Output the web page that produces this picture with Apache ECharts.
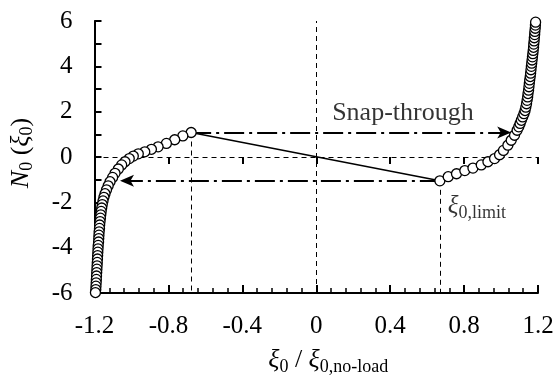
<!DOCTYPE html>
<html><head><meta charset="utf-8">
<script src="https://cdn.jsdelivr.net/npm/echarts@6/dist/echarts.min.js"></script>
<style>html,body{margin:0;padding:0;background:#fff}#c{width:558px;height:385px}</style>
</head><body><div id="c"></div>
<script>
// Stable branch, negative side (from limit point down to the bottom)
const leftBranch = [[-0.677,1.08],[-0.722,0.93],[-0.766,0.76],[-0.811,0.60],[-0.856,0.45],[-0.892,0.34],[-0.928,0.23],[-0.963,0.14],[-0.990,0.04],[-1.012,-0.07],[-1.035,-0.21],[-1.053,-0.35],[-1.071,-0.53],[-1.089,-0.72],[-1.102,-0.90],[-1.116,-1.09],[-1.126,-1.27],[-1.135,-1.45],[-1.143,-1.62],[-1.149,-1.78],[-1.154,-1.94],[-1.158,-2.10],[-1.161,-2.25],[-1.164,-2.40],[-1.166,-2.55],[-1.168,-2.70],[-1.170,-2.85],[-1.172,-3.00],[-1.173,-3.15],[-1.175,-3.30],[-1.176,-3.45],[-1.177,-3.60],[-1.178,-3.75],[-1.180,-3.90],[-1.181,-4.05],[-1.182,-4.20],[-1.183,-4.35],[-1.184,-4.50],[-1.185,-4.65],[-1.186,-4.80],[-1.187,-4.95],[-1.188,-5.10],[-1.189,-5.25],[-1.190,-5.40],[-1.191,-5.55],[-1.192,-5.70],[-1.193,-5.85],[-1.195,-5.98]];
// Stable branch, positive side (from limit point up to the top)
const rightBranch = [[0.669,-1.05],[0.714,-0.87],[0.759,-0.74],[0.804,-0.60],[0.848,-0.49],[0.893,-0.35],[0.929,-0.21],[0.965,-0.07],[0.992,0.10],[1.013,0.29],[1.037,0.52],[1.055,0.74],[1.073,0.96],[1.087,1.18],[1.096,1.33],[1.103,1.48],[1.110,1.62],[1.117,1.77],[1.124,1.91],[1.130,2.05],[1.134,2.20],[1.138,2.35],[1.141,2.50],[1.144,2.65],[1.146,2.80],[1.149,2.95],[1.151,3.10],[1.153,3.25],[1.155,3.40],[1.158,3.55],[1.160,3.70],[1.162,3.85],[1.164,4.00],[1.166,4.14],[1.168,4.28],[1.170,4.42],[1.172,4.56],[1.174,4.70],[1.176,4.84],[1.177,4.98],[1.179,5.12],[1.180,5.26],[1.182,5.40],[1.183,5.54],[1.185,5.68],[1.186,5.82],[1.187,5.95]];
const upperLimit = [-0.677, 1.08];
const lowerLimit = [0.669, -1.05];
const snapUpperEnd = [1.055, 1.08];
const snapLowerEnd = [-1.062, -1.05];
const xMin = -1.2, xMax = 1.2, xStep = 0.4;
const yMin = -6, yMax = 6, yStep = 2;
const snapLabel = 'Snap-through';
const snapLabelAt = [0.086, 1.94];
const limitLabelAt = [0.712, -2.2];

const F = 'Liberation Serif';
const chart = echarts.init(document.getElementById('c'), null, {renderer:'canvas'});
const dashThin = {color:'#000', width:1, type:[5,4]};
const dashDot = {color:'#000', width:2, type:[20,5,3,5]};
const base = {
  fontFamily:F, color:'#000', fontSize:26,
  rich:{
    i:{fontFamily:F, fontStyle:'italic', fontSize:26, color:'#000'},
    g:{fontFamily:F, fontStyle:'italic', fontSize:26, color:'#000'},
    n:{fontFamily:F, fontSize:26, color:'#000'},
    s:{fontFamily:F, fontSize:18, color:'#000', padding:[13,0,0,0]}
  }
};
chart.setOption({
  animation:false,
  backgroundColor:'#fff',
  grid:{left:92, right:20, top:21, bottom:92, containLabel:false},
  xAxis:[{
    type:'value', min:xMin, max:xMax, interval:xStep,
    axisLine:{show:true, onZero:false, lineStyle:{color:'#000', width:2}},
    axisTick:{show:true, inside:true, length:8, lineStyle:{color:'#000', width:2}},
    minorTick:{show:true, splitNumber:5, length:5, lineStyle:{color:'#000', width:1.5}},
    splitLine:{show:false},
    axisLabel:{fontFamily:F, fontSize:25, color:'#000', margin:21},
    name:'{g|ξ}{s|0}{n| / }{g|ξ}{s|0,no-load}',
    nameLocation:'middle', nameGap:52,
    nameTextStyle:Object.assign({}, base, {padding:[0,0,0,24]})
  },{
    type:'value', min:xMin, max:xMax, interval:xStep, position:'bottom',
    axisLine:{show:false}, axisLabel:{show:false}, splitLine:{show:false},
    axisTick:{show:true, inside:false, length:7, lineStyle:{color:'#000', width:2}}
  }],
  yAxis:{
    type:'value', min:yMin, max:yMax, interval:yStep,
    axisLine:{show:true, onZero:false, lineStyle:{color:'#000', width:2}},
    axisTick:{show:true, inside:true, length:7, lineStyle:{color:'#000', width:2}},
    minorTick:{show:true, splitNumber:2, length:7, lineStyle:{color:'#000', width:2}},
    splitLine:{show:false},
    axisLabel:{fontFamily:F, fontSize:25, color:'#000', margin:22},
    name:'{i|N}{s|0}{n| (}{g|ξ}{s|0}{n|)}',
    nameLocation:'middle', nameGap:58, nameRotate:90,
    nameTextStyle:Object.assign({}, base, {padding:[0,0,0,8]})
  },
  series:[
    {
      type:'scatter', z:1, symbolSize:0, data:[], silent:true,
      markLine:{
        silent:true, symbol:['none','none'], label:{show:false}, animation:false,
        data:[
          [{coord:[0,yMin], lineStyle:dashThin},{coord:[0,yMax]}],
          [{coord:[xMin,0], lineStyle:dashThin},{coord:[xMax,0]}],
          [{coord:[upperLimit[0],upperLimit[1]], lineStyle:dashThin},{coord:[upperLimit[0],yMin]}],
          [{coord:[lowerLimit[0],lowerLimit[1]], lineStyle:dashThin},{coord:[lowerLimit[0],yMin]}],
          [{coord:upperLimit, lineStyle:{color:'#000', width:1.5, type:'solid'}},{coord:lowerLimit}]
        ]
      }
    },
    {
      type:'scatter', z:2, symbolSize:0, data:[], silent:true,
      markLine:{
        silent:true, symbol:['none','arrow'], symbolSize:[9,14], label:{show:false}, animation:false,
        lineStyle:dashDot,
        data:[
          [{coord:upperLimit},{coord:snapUpperEnd}],
          [{coord:lowerLimit},{coord:snapLowerEnd}]
        ]
      }
    },
    {
      type:'scatter', z:5, clip:false, symbol:'circle', symbolSize:10,
      itemStyle:{color:'#fff', borderColor:'#000', borderWidth:1.3, opacity:1},
      data:leftBranch
    },
    {
      type:'scatter', z:5, clip:false, symbol:'circle', symbolSize:10,
      itemStyle:{color:'#fff', borderColor:'#000', borderWidth:1.3, opacity:1},
      data:rightBranch
    },
    {
      type:'scatter', z:6, symbolSize:0, silent:true,
      data:[{value:snapLabelAt, label:{show:true, position:'right', distance:0, formatter:snapLabel, fontFamily:F, fontSize:26, color:'#000'}},
            {value:limitLabelAt, label:{show:true, position:'right', distance:0, formatter:'{g|ξ}{s|0,limit}', fontFamily:F, fontSize:22, color:'#000',
              rich:{g:{fontFamily:F, fontStyle:'italic', fontSize:25, color:'#000'}, s:{fontFamily:F, fontSize:18, color:'#000', padding:[12,0,0,0]}}}}]
    }
  ]
});
</script></body></html>
